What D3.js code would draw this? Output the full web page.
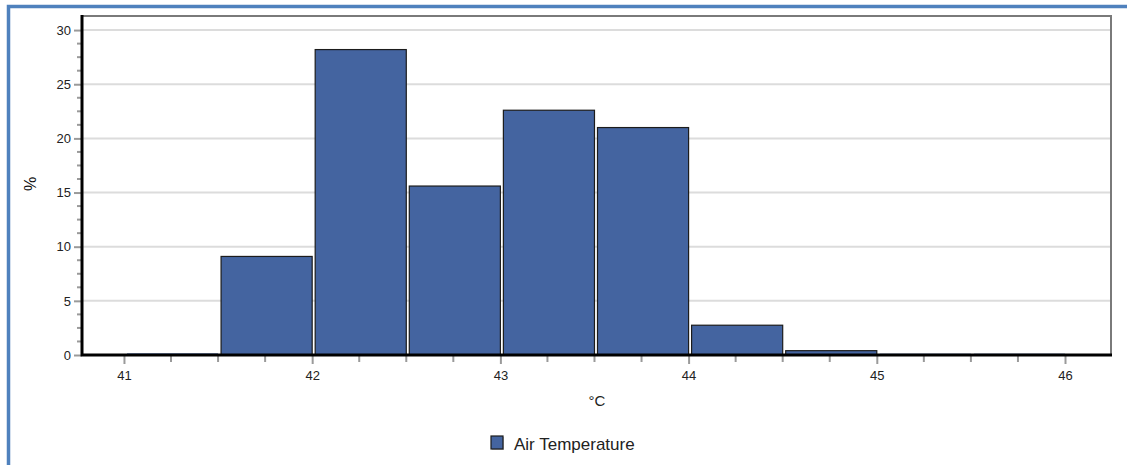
<!DOCTYPE html>
<html><head><meta charset="utf-8">
<script src="https://cdn.jsdelivr.net/npm/d3@7"></script>
<style>
html,body{margin:0;padding:0;background:#fff;}
svg{display:block;font-family:"Liberation Sans",Arial,sans-serif;}
</style></head>
<body>
<svg id="chart" width="1127" height="465"></svg>
<script>
// Data
const binStarts = [41, 41.5, 42, 42.5, 43, 43.5, 44, 44.5, 45, 45.5];
const binWidth = 0.5;
const percents = [0.15, 9.1, 28.2, 15.6, 22.6, 21.0, 2.75, 0.4, 0.12, 0.12];
const xTicks = [41, 42, 43, 44, 45, 46];
const yTicks = [0, 5, 10, 15, 20, 25, 30];
const seriesName = "Air Temperature";
const xLabel = "°C";
const yLabel = "%";

const svg = d3.select("#chart");
const L = 82, R = 1111, T = 16, B = 355;

const x = d3.scaleLinear().domain([40.777, 46.2444]).range([L, R]);
const y = d3.scaleLinear().domain([0, 31.3]).range([B, T]);

// outer blue frame
svg.append("path").attr("d", `M8.5,465 V6.5 H1127`)
  .attr("fill","none").attr("stroke","#4f81bd").attr("stroke-width",3.5);

// gridlines
svg.append("g").selectAll("line").data(yTicks.filter(d=>d>0)).join("line")
  .attr("x1", L).attr("x2", R)
  .attr("y1", d=>y(d)).attr("y2", d=>y(d))
  .attr("stroke","#dcdcdc").attr("stroke-width",2);

// plot frame top & right
svg.append("path").attr("d", `M${L},${T} H${R} V${B}`)
  .attr("fill","none").attr("stroke","#7a7a7a").attr("stroke-width",2);

// bars
svg.append("g").selectAll("rect").data(binStarts).join("rect")
  .attr("x", (d)=>x(d)+3)
  .attr("width", (d)=>x(d+binWidth)-x(d)-3)
  .attr("y", (d,i)=>y(percents[i]))
  .attr("height", (d,i)=>B - y(percents[i]))
  .attr("fill","#4464a0")
  .attr("stroke", (d,i)=> percents[i] > 0.3 ? "#1c1c1c" : "none")
  .attr("stroke-width",1.2);

// Y axis
const yMinor = d3.range(0, 30.01, 1.25).filter(v => v % 5 !== 0);
const yAxis = d3.axisLeft(y).tickValues(yTicks).tickSize(8).tickPadding(3);
const gy = svg.append("g").attr("transform",`translate(${L},0)`).call(yAxis);
gy.select(".domain").remove();
gy.selectAll(".tick line").attr("stroke","#9a9a9a").attr("stroke-width",2);
gy.selectAll(".tick text").attr("font-size",13).attr("fill","#222")
  .attr("font-family","Liberation Sans, Arial, sans-serif");
svg.append("g").selectAll("line").data(yMinor).join("line")
  .attr("x1", L-5).attr("x2", L).attr("y1", d=>y(d)).attr("y2", d=>y(d))
  .attr("stroke","#9a9a9a").attr("stroke-width",2);

// X axis
const xMinor = d3.range(41, 46.001, 0.25).filter(v => v % 1 !== 0);
const xAxis = d3.axisBottom(x).tickValues(xTicks).tickFormat(d3.format("d")).tickSize(9).tickPadding(7);
const gx = svg.append("g").attr("transform",`translate(0,${B})`).call(xAxis);
gx.select(".domain").remove();
gx.selectAll(".tick line").attr("stroke","#9a9a9a").attr("stroke-width",2);
gx.selectAll(".tick text").attr("font-size",13).attr("fill","#222")
  .attr("font-family","Liberation Sans, Arial, sans-serif");
svg.append("g").selectAll("line").data(xMinor).join("line")
  .attr("x1", d=>x(d)).attr("x2", d=>x(d)).attr("y1", B).attr("y2", B+7)
  .attr("stroke","#9a9a9a").attr("stroke-width",2);

// black axis lines left & bottom
svg.append("path").attr("d", `M${L},${T-1} V${B} H${R+1}`)
  .attr("fill","none").attr("stroke","#000").attr("stroke-width",3);

// axis labels
svg.append("text").attr("x", 597).attr("y", 406).attr("text-anchor","middle")
  .attr("font-size",15).attr("fill","#222").text(xLabel);
svg.append("text").attr("transform","translate(36,184) rotate(-90)")
  .attr("text-anchor","middle").attr("font-size",16).attr("fill","#111").text(yLabel);

// legend
const lg = svg.append("g").attr("transform","translate(491,436)");
lg.append("rect").attr("x",1).attr("y",1).attr("width",12).attr("height",13).attr("fill","#9a9a9a").attr("opacity",0.6);
lg.append("rect").attr("x",0).attr("y",0).attr("width",12).attr("height",13)
  .attr("fill","#4464a0").attr("stroke","#1c1c1c").attr("stroke-width",1.2);
lg.append("text").attr("x",23).attr("y",13.5).attr("font-size",17).attr("fill","#222").text(seriesName);
</script>
</body></html>
